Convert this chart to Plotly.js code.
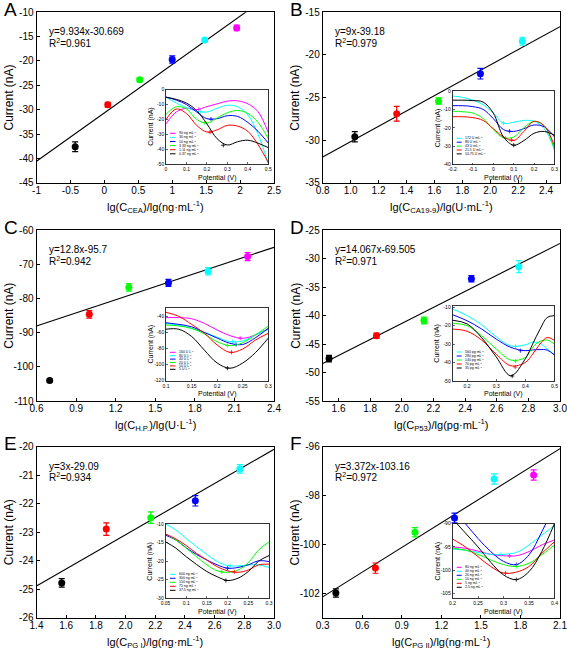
<!DOCTYPE html>
<html><head><meta charset="utf-8">
<script src="https://cdn.plot.ly/plotly-3.0.1.min.js"></script>
<style>html,body{margin:0;padding:0;background:#fff;} #chart{width:567px;height:649px;}</style>
</head><body><div id="chart"></div>
<script>
const W = 567, H = 649;
const FONT = '"Liberation Sans", Arial, sans-serif';
const K = '#000000', R = '#ff0000', G = '#00ff00', B = '#0000ff', CY = '#00ffff', M = '#ff00ff';

// ---------- Main panels: data ----------
const A_x = [-0.43, 0.05, 0.52, 1.0, 1.48, 1.95];
const A_y = [-37.6, -29.0, -23.85, -19.7, -15.7, -13.2];
const A_err = [1.0, 0.5, 0.4, 0.75, 0.3, 0.55];
const A_col = [K, R, G, B, CY, M];
const A_fit = [9.934, -30.669];

const B_x = [1.03, 1.33, 1.63, 1.93, 2.23];
const B_y = [-29.6, -26.9, -25.4, -22.2, -18.4];
const B_err = [0.6, 0.87, 0.37, 0.63, 0.47];
const B_col = [K, R, G, B, CY];
const B_fit = [9, -39.18];

const C_x = [0.7, 1.0, 1.3, 1.6, 1.9, 2.2];
const C_y = [-104.0, -84.6, -76.7, -75.4, -72.0, -67.7];
const C_err = [0.4, 1.1, 1.1, 1.0, 1.1, 1.2];
const C_col = [K, R, G, B, CY, M];
const C_fit = [12.8, -95.7];

const D_x = [1.54, 1.84, 2.14, 2.44, 2.74];
const D_y = [-47.55, -43.55, -40.85, -33.5, -31.4];
const D_err = [0.56, 0.47, 0.6, 0.56, 1.06];
const D_col = [K, R, G, B, CY];
const D_fit = [14.067, -69.505];

const E_x = [1.57, 1.87, 2.17, 2.47, 2.77];
const E_y = [-24.78, -22.89, -22.49, -21.9, -20.78];
const E_err = [0.15, 0.22, 0.2, 0.18, 0.15];
const E_col = [K, R, G, B, CY];
const E_fit = [3, -29.09];

const F_x = [0.4, 0.7, 1.0, 1.3, 1.6, 1.9];
const F_y = [-101.99, -100.97, -99.5, -98.92, -97.32, -97.16];
const F_err = [0.17, 0.21, 0.19, 0.2, 0.21, 0.21];
const F_col = [K, R, G, B, CY, M];
const F_fit = [3.372, -103.16];

// ---------- Main panels: tick values ----------
const A_xt = [-1, -0.5, 0, 0.5, 1, 1.5, 2, 2.5];
const A_yt = [-45, -40, -35, -30, -25, -20, -15, -10];
const B_xt = [0.8, 1.0, 1.2, 1.4, 1.6, 1.8, 2.0, 2.2, 2.4];
const B_yt = [-35, -30, -25, -20, -15];
const C_xt = [0.6, 0.9, 1.2, 1.5, 1.8, 2.1, 2.4];
const C_yt = [-110, -100, -90, -80, -70, -60];
const D_xt = [1.6, 1.8, 2.0, 2.2, 2.4, 2.6, 2.8, 3.0];
const D_yt = [-55, -50, -45, -40, -35, -30, -25];
const E_xt = [1.4, 1.6, 1.8, 2.0, 2.2, 2.4, 2.6, 2.8, 3.0];
const E_yt = [-26, -25, -24, -23, -22, -21, -20];
const F_xt = [0.3, 0.6, 0.9, 1.2, 1.5, 1.8, 2.1];
const F_yt = [-102, -100, -98, -96];

// ---------- Insets: curves ----------
const iA_x = [0, 0.05, 0.1, 0.15, 0.2, 0.25, 0.3, 0.35, 0.4, 0.45, 0.5];
const iA_90 = [-23, -15, -12.5, -13.4, -11.4, -9.5, -7.7, -7.5, -9.5, -14.8, -29];
const iA_30 = [-5, -9, -12, -14.5, -15, -12.5, -10.5, -11.5, -17, -30, -50];
const iA_10 = [-5, -7, -10, -15, -19.5, -19.5, -17.5, -18, -22, -28, -36];
const iA_333 = [-16.6, -11.5, -13, -20, -22.5, -19, -15.5, -14, -16, -22, -33];
const iA_111 = [-20, -13, -16, -24, -28.5, -27, -24, -24.5, -28, -37, -49];
const iA_037 = [-5, -6.5, -9, -14, -23, -33, -37.2, -35, -34, -36, -39];
const iA_mx = [0.16, 0.17, 0.22, 0.19, 0.215, 0.28];
const iA_my = [-13.3, -14.8, -19.8, -22.2, -28.6, -37.4];

const iB_x = [-0.2, -0.15, -0.1, -0.05, 0, 0.05, 0.1, 0.15, 0.2, 0.25, 0.3];
const iB_172 = [-2.7, -3.5, -5, -7.5, -12, -17.5, -17, -16, -16.5, -20.5, -32];
const iB_86 = [-8, -8, -8.5, -10, -15, -21, -22, -20.5, -18.5, -19.5, -25];
const iB_43 = [-11, -11.3, -12, -15, -21, -25.5, -25, -20, -16.5, -19, -32];
const iB_215 = [-14, -14, -14.5, -16, -20.5, -25, -27, -22, -16.5, -19, -30];
const iB_1075 = [-5, -5, -5.2, -6, -12, -25, -29.5, -27, -23, -22, -24];
const iB_mx = [0.05, 0.08, 0.06, 0.09, 0.1];
const iB_my = [-17.5, -21.9, -25.6, -26.6, -29.5];

const iC_x = [0.1, 0.125, 0.15, 0.175, 0.2, 0.225, 0.25, 0.275, 0.3];
const iC_160 = [-41.6, -41.6, -43, -48.7, -57, -64, -67.3, -63, -55];
const iC_80 = [-49, -51, -55, -60, -66, -71.5, -70.5, -63, -56];
const iC_40 = [-48, -50, -53, -60, -67, -73.5, -75, -66.5, -55];
const iC_20 = [-50.7, -52, -55, -62, -71.5, -76.5, -72.7, -63, -52];
const iC_10 = [-35, -40, -50, -61, -75.6, -84.8, -80.6, -69.4, -61];
const iC_5 = [-56, -56, -65, -82, -98, -104.5, -98, -85, -67];
const iC_mx = [0.245, 0.23, 0.237, 0.22, 0.228, 0.22];
const iC_my = [-67.2, -71.5, -75.0, -76.3, -84.7, -104.4];

const iD_x = [0.15, 0.2, 0.25, 0.3, 0.35, 0.4, 0.425, 0.45, 0.475, 0.5];
const iD_560 = [-10.9, -14.5, -19.5, -26, -31, -30.4, -29, -29.6, -32.7, -35.8];
const iD_280 = [-14, -17.3, -21.8, -27.3, -31.8, -33.6, -33.2, -33, -33.3, -36];
const iD_140 = [-18.7, -20, -25.5, -32.7, -38.7, -37.3, -31.8, -28.5, -27.8, -30];
const iD_70 = [-21.8, -23, -27.8, -35.5, -41.8, -40, -35.5, -30, -26.4, -28];
const iD_35 = [-17, -19, -26.5, -37, -47.3, -38, -30, -22, -15.5, -14.5];
const iD_mx = [0.366, 0.383, 0.366, 0.365, 0.355];
const iD_my = [-31.3, -33.6, -39.3, -42.5, -47.4];

const iE_x = [0.05, 0.075, 0.1, 0.125, 0.15, 0.175, 0.2, 0.225, 0.25, 0.275, 0.3];
const iE_600 = [-10, -11.6, -13.9, -16.1, -18.2, -20.1, -21.2, -21.3, -21, -21, -21.7];
const iE_300 = [-13, -14.3, -16.4, -18.2, -19.7, -21, -21.9, -21.7, -21, -19.9, -20.1];
const iE_150 = [-12.7, -14.3, -16.5, -18.8, -21, -22.6, -23, -22.4, -20.4, -17, -14.8];
const iE_75 = [-12.7, -14, -15.8, -17.9, -19.7, -21.5, -22.6, -23, -22.4, -21, -20.8];
const iE_375 = [-14.8, -16.5, -18.8, -20.9, -22.8, -24.2, -25.2, -24.6, -22.8, -20, -18.5];
const iE_mx = [0.206, 0.2, 0.186, 0.216, 0.196];
const iE_my = [-21.2, -21.9, -22.9, -22.9, -25.2];

const iF_x = [0.2, 0.225, 0.25, 0.275, 0.3, 0.325, 0.35, 0.375, 0.4];
const iF_80 = [-95, -95.3, -95.9, -96.6, -96.9, -96.9, -96, -94.6, -93.5];
const iF_40 = [-95.5, -95.7, -96.2, -96.6, -96.6, -96.2, -94.6, -92.5, -90.4];
const iF_20 = [-87, -90, -93.2, -96, -98.1, -98.8, -96.7, -91.8, -86];
const iF_10 = [-95.3, -95.7, -96.6, -97.8, -98.8, -99.2, -98.5, -96.7, -94.6];
const iF_5 = [-93.3, -95, -97.1, -99.2, -100.6, -100.4, -99.2, -96.4, -93.9];
const iF_25 = [-89, -92, -95, -98.3, -101, -102, -100.3, -96, -90];
const iF_mx = [0.312, 0.295, 0.325, 0.325, 0.304, 0.325];
const iF_my = [-96.9, -96.6, -98.8, -99.2, -100.6, -102];

// ---------- Insets: ticks and legend labels ----------
const iA_xt = [0, 0.1, 0.2, 0.3, 0.4, 0.5];
const iA_yt = [-50, -40, -30, -20, -10, 0];
const iB_xt = [-0.2, -0.1, 0, 0.1, 0.2, 0.3];
const iB_yt = [-40, -30, -20, -10, 0];
const iC_xt = [0.1, 0.15, 0.2, 0.25, 0.3];
const iC_yt = [-120, -100, -80, -60, -40];
const iD_xt = [0.2, 0.3, 0.4, 0.5];
const iD_yt = [-50, -40, -30, -20, -10];
const iE_xt = [0.05, 0.1, 0.15, 0.2, 0.25, 0.3];
const iE_yt = [-30, -25, -20, -15, -10];
const iF_xt = [0.2, 0.25, 0.3, 0.35, 0.4];
const iF_yt = [-105, -100, -95, -90];

const iA_names = ['90 ng mL<sup>-1</sup>', '30 ng mL<sup>-1</sup>', '10 ng mL<sup>-1</sup>', '3.33 ng mL<sup>-1</sup>', '1.11 ng mL<sup>-1</sup>', '0.37 ng mL<sup>-1</sup>'];
const iB_names = ['172 U mL<sup>-1</sup>', '86 U mL<sup>-1</sup>', '43 U mL<sup>-1</sup>', '21.5 U mL<sup>-1</sup>', '10.75 U mL<sup>-1</sup>'];
const iC_names = ['160 U L<sup>-1</sup>', '80 U L<sup>-1</sup>', '40 U L<sup>-1</sup>', '20 U L<sup>-1</sup>', '10 U L<sup>-1</sup>', '5 U L<sup>-1</sup>'];
const iD_names = ['560 pg mL<sup>-1</sup>', '280 pg mL<sup>-1</sup>', '140 pg mL<sup>-1</sup>', '70 pg mL<sup>-1</sup>', '35 pg mL<sup>-1</sup>'];
const iE_names = ['600 ng mL<sup>-1</sup>', '300 ng mL<sup>-1</sup>', '150 ng mL<sup>-1</sup>', '75 ng mL<sup>-1</sup>', '37.5 ng mL<sup>-1</sup>'];
const iF_names = ['80 ng mL<sup>-1</sup>', '40 ng mL<sup>-1</sup>', '20 ng mL<sup>-1</sup>', '10 ng mL<sup>-1</sup>', '5 ng mL<sup>-1</sup>', '2.5 ng mL<sup>-1</sup>'];

// ---------- Assemble ----------
const px = x => x / W, py = y => 1 - y / H;
const fmt = d => v => (d == null ? String(v) : v.toFixed(d));
const EPS = 1e-6;

const mains = [
  {x: A_x, y: A_y, e: A_err, c: A_col, fit: A_fit, xr: [-1, 2.5], yr: [-45, -10], xt: A_xt, yt: A_yt, xd: null, yd: null,
   xtitle: 'lg(C<sub>CEA</sub>)/lg(ng·mL<sup>-1</sup>)', eq: 'y=9.934x-30.669', r2: 'R<sup>2</sup>=0.961', letter: 'A',
   box: [36.5, 274, 12.3, 182.7]},
  {x: B_x, y: B_y, e: B_err, c: B_col, fit: B_fit, xr: [0.8, 2.5], yr: [-35, -15], xt: B_xt, yt: B_yt, xd: 1, yd: null,
   xtitle: 'lg(C<sub>CA19-9</sub>)/lg(U·mL<sup>-1</sup>)', eq: 'y=9x-39.18', r2: 'R<sup>2</sup>=0.979', letter: 'B',
   box: [322.7, 560, 12.3, 182.7]},
  {x: C_x, y: C_y, e: C_err, c: C_col, fit: C_fit, xr: [0.6, 2.4], yr: [-110, -60], xt: C_xt, yt: C_yt, xd: 1, yd: null,
   xtitle: 'lg(C<sub>H.P.</sub>)/lg(U·L<sup>-1</sup>)', eq: 'y=12.8x-95.7', r2: 'R<sup>2</sup>=0.942', letter: 'C',
   box: [36.5, 274, 230.3, 401]},
  {x: D_x, y: D_y, e: D_err, c: D_col, fit: D_fit, xr: [1.5, 3.0], yr: [-55, -25], xt: D_xt, yt: D_yt, xd: 1, yd: null,
   xtitle: 'lg(C<sub>P53</sub>)/lg(pg·mL<sup>-1</sup>)', eq: 'y=14.067x-69.505', r2: 'R<sup>2</sup>=0.971', letter: 'D',
   box: [322.7, 560, 230.3, 401]},
  {x: E_x, y: E_y, e: E_err, c: E_col, fit: E_fit, xr: [1.4, 3.0], yr: [-26, -20], xt: E_xt, yt: E_yt, xd: 1, yd: null,
   xtitle: 'lg(C<sub>PG I</sub>)/lg(ng·mL<sup>-1</sup>)', eq: 'y=3x-29.09', r2: 'R<sup>2</sup>=0.934', letter: 'E',
   box: [36.5, 274, 446.7, 617.7]},
  {x: F_x, y: F_y, e: F_err, c: F_col, fit: F_fit, xr: [0.3, 2.1], yr: [-103, -96], xt: F_xt, yt: F_yt, xd: 1, yd: null,
   xtitle: 'lg(C<sub>PG II</sub>)/lg(ng·mL<sup>-1</sup>)', eq: 'y=3.372x-103.16', r2: 'R<sup>2</sup>=0.972', letter: 'F',
   box: [322.7, 560, 446.7, 617.7]}
];

const insets = [
  {x: iA_x, ys: [iA_90, iA_30, iA_10, iA_333, iA_111, iA_037], c: [M, CY, B, G, R, K], names: iA_names, mx: iA_mx, my: iA_my,
   xr: [0, 0.5], yr: [-50, 0], xt: iA_xt, yt: iA_yt, xd: null, box: [166, 268.3, 89.7, 164],
   leg: {x0: 170, x1: 175.5, ys: [133.3, 137.4, 141.5, 145.6, 149.7, 153.8]}},
  {x: iB_x, ys: [iB_172, iB_86, iB_43, iB_215, iB_1075], c: [CY, B, G, R, K], names: iB_names, mx: iB_mx, my: iB_my,
   xr: [-0.2, 0.3], yr: [-40, 0], xt: iB_xt, yt: iB_yt, xd: null, box: [452.5, 554.5, 91, 164.5],
   leg: {x0: 456.7, x1: 461.7, ys: [138.3, 142.2, 146.1, 150.0, 153.9]}},
  {x: iC_x, ys: [iC_160, iC_80, iC_40, iC_20, iC_10, iC_5], c: [M, CY, B, G, R, K], names: iC_names, mx: iC_mx, my: iC_my,
   xr: [0.1, 0.3], yr: [-120, -30], xt: iC_xt, yt: iC_yt, xd: null, box: [166, 268.3, 308.3, 380.7],
   leg: {x0: 170, x1: 175.5, ys: [352.3, 355.7, 359.1, 362.5, 365.9, 369.3]}},
  {x: iD_x, ys: [iD_560, iD_280, iD_140, iD_70, iD_35], c: [CY, B, G, R, K], names: iD_names, mx: iD_mx, my: iD_my,
   xr: [0.15, 0.5], yr: [-50, -9], xt: iD_xt, yt: iD_yt, xd: null, box: [452.5, 554.5, 305.5, 380.8],
   leg: {x0: 456.7, x1: 461.7, ys: [352, 356, 360, 364, 368]}},
  {x: iE_x, ys: [iE_600, iE_300, iE_150, iE_75, iE_375], c: [CY, B, G, R, K], names: iE_names, mx: iE_mx, my: iE_my,
   xr: [0.05, 0.3], yr: [-30, -10], xt: iE_xt, yt: iE_yt, xd: null, box: [165.5, 269, 524, 598.3],
   leg: {x0: 170, x1: 175.5, ys: [574.3, 578.3, 582.3, 586.3, 590.3]}},
  {x: iF_x, ys: [iF_80, iF_40, iF_20, iF_10, iF_5, iF_25], c: [M, CY, B, G, R, K], names: iF_names, mx: iF_mx, my: iF_my,
   xr: [0.2, 0.4], yr: [-106, -90], xt: iF_xt, yt: iF_yt, xd: null, box: [452.5, 554.5, 523.5, 598.3],
   leg: {x0: 456.7, x1: 461.7, ys: [567.3, 571.3, 575.3, 579.3, 583.3, 587.3]}}
];

const data = [];
const layout = {
  width: W, height: H, margin: {l: 0, r: 0, t: 0, b: 0},
  paper_bgcolor: '#ffffff', plot_bgcolor: 'rgba(0,0,0,0)', showlegend: false,
  font: {family: FONT, color: '#000'}, annotations: [], shapes: []
};

function axisBase(range, tv, dec, dom, anchor, fs, tl) {
  return {
    domain: dom, range: [range[0] - EPS, range[1] + EPS], anchor: anchor, autorange: false,
    tickmode: 'array', tickvals: tv, ticktext: tv.map(fmt(dec)),
    showline: true, linecolor: '#000', linewidth: 1, mirror: true,
    ticks: 'inside', ticklen: tl, tickwidth: 1, tickcolor: '#000',
    showgrid: false, zeroline: false, tickfont: {family: FONT, size: fs, color: '#000'},
    ticklabeloverflow: 'allow', automargin: false
  };
}
function note(x, y, text, size, opts) {
  return Object.assign({xref: 'paper', yref: 'paper', x: px(x), y: py(y), text: text, showarrow: false,
    xanchor: 'left', yanchor: 'middle', font: {family: FONT, size: size, color: '#000'}}, opts || {});
}

mains.forEach((p, k) => {
  const n = k + 1, xs = 'x' + (n === 1 ? '' : n), ys = 'y' + (n === 1 ? '' : n);
  const [l, r, t, b] = p.box;
  const xa = axisBase(p.xr, p.xt, p.xd, [px(l), px(r)], ys, 10, 3);
  xa.ticklabelstandoff = -2;
  const ya = axisBase(p.yr, p.yt, p.yd, [py(b), py(t)], xs, 10, 3);
  layout['xaxis' + (n === 1 ? '' : n)] = xa;
  layout['yaxis' + (n === 1 ? '' : n)] = ya;
  // fit line
  data.push({x: p.xr, y: p.xr.map(v => p.fit[0] * v + p.fit[1]), xaxis: xs, yaxis: ys,
    mode: 'lines', line: {color: '#000', width: 1.1}, hoverinfo: 'skip'});
  // points
  p.x.forEach((xv, i) => {
    data.push({x: [xv], y: [p.y[i]], xaxis: xs, yaxis: ys, mode: 'markers',
      marker: {color: p.c[i], size: 7, symbol: 'circle'},
      error_y: {type: 'data', array: [p.e[i]], visible: true, color: p.c[i], thickness: 1.2, width: 3}});
  });
  layout.annotations.push(note(l - 35, t - 3, p.letter, 19));
  layout.annotations.push(note(l + 10.5, t + 19.4, p.eq, 10));
  layout.annotations.push(note(l + 10.5, t + 30.5, p.r2, 10));
  layout.annotations.push(note((l + r) / 2, b + 24, p.xtitle, 11, {xanchor: 'center'}));
  layout.annotations.push(note(l - 27.5, (t + b) / 2, 'Current (nA)', 12, {xanchor: 'center', textangle: -90}));
});

insets.forEach((p, k) => {
  const n = k + 7, xs = 'x' + n, ys = 'y' + n;
  const [l, r, t, b] = p.box;
  const xa = axisBase(p.xr, p.xt, p.xd, [px(l), px(r)], ys, 5, 2);
  xa.linewidth = 0.8; xa.tickwidth = 0.6;
  const ya = axisBase(p.yr, p.yt, null, [py(b), py(t)], xs, 5, 2);
  ya.linewidth = 0.8; ya.tickwidth = 0.6;
  layout['xaxis' + n] = xa;
  layout['yaxis' + n] = ya;
  layout.annotations.push(note((l + r) / 2, b + 13.5, 'Potential (V)', 7, {xanchor: 'center'}));
  layout.annotations.push(note(l - 15, (t + b) / 2, 'Current (nA)', 7, {xanchor: 'center', textangle: -90}));
  p.ys.forEach((yv, i) => {
    data.push({x: p.x, y: yv, xaxis: xs, yaxis: ys, mode: 'lines', name: p.names[i],
      line: {color: p.c[i], width: 1, shape: 'spline', smoothing: 1}, hoverinfo: 'skip'});
    data.push({x: [p.mx[i]], y: [p.my[i]], xaxis: xs, yaxis: ys, mode: 'markers',
      marker: {symbol: 'cross-thin', size: 3, line: {color: p.c[i], width: 0.8}}, hoverinfo: 'skip'});
    const ly = p.leg.ys[i];
    layout.shapes.push({type: 'line', xref: 'paper', yref: 'paper', x0: px(p.leg.x0), x1: px(p.leg.x1),
      y0: py(ly), y1: py(ly), line: {color: p.c[i], width: 1}});
    layout.annotations.push(note(p.leg.x1 + 1, ly, p.names[i], 3.5));
  });
});

Plotly.newPlot('chart', data, layout, {staticPlot: true, displayModeBar: false});
</script></body></html>
